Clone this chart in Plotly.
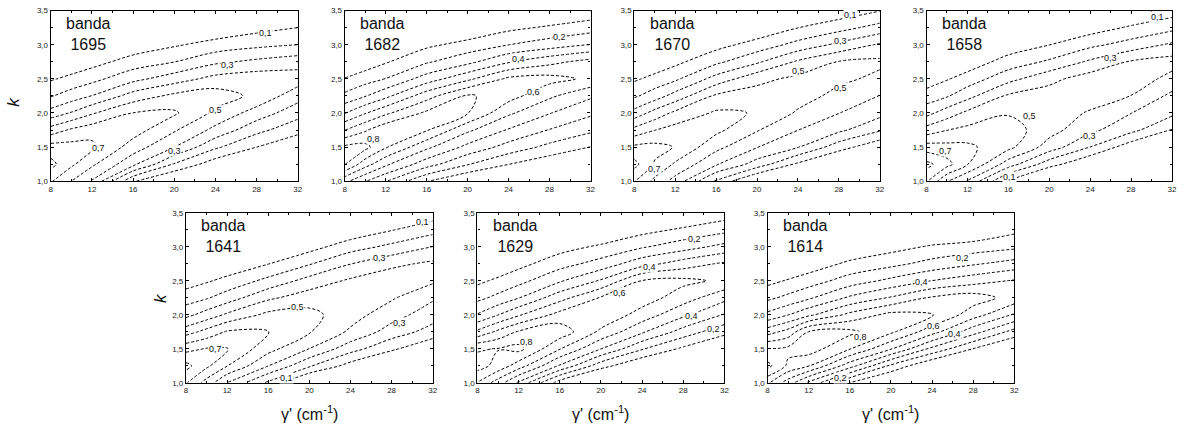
import plotly.graph_objects as go

# ---------------- data ----------------
GAMMA = [8, 10, 12, 16, 20, 24, 28, 32]                      # gamma' (cm-1) grid
K = [1.0, 1.25, 1.5, 1.75, 2.0, 2.25, 2.5, 2.75, 3.0, 3.25, 3.5]  # k grid
BANDS = ["1695", "1682", "1670", "1658", "1641", "1629", "1614"]

# z values, one list per gamma column (values along K)
Z_1695 = [
    [0.71, 0.83, 0.743, 0.544, 0.34, 0.192, 0.088, 0.0, -0.1, -0.2, -0.3],
    [0.6, 0.72, 0.738, 0.616, 0.408, 0.247, 0.128, 0.023, -0.08, -0.18, -0.28],
    [0.49, 0.62, 0.725, 0.659, 0.488, 0.303, 0.168, 0.062, -0.04, -0.14, -0.24],
    [0.11, 0.425, 0.552, 0.647, 0.602, 0.442, 0.27, 0.143, 0.035, -0.07, -0.17],
    [-0.03, 0.19, 0.4, 0.512, 0.615, 0.524, 0.353, 0.198, 0.087, -0.03, -0.13],
    [-0.136, 0.043, 0.217, 0.371, 0.478, 0.55, 0.433, 0.28, 0.138, 0.019, -0.1],
    [-0.2, -0.04, 0.1, 0.23, 0.356, 0.475, 0.46, 0.322, 0.174, 0.065, -0.04],
    [-0.3, -0.15, 0.014, 0.133, 0.239, 0.342, 0.45, 0.356, 0.2, 0.1, 0.0],
]
Z_1682 = [
    [0.525, 0.81, 0.82, 0.598, 0.395, 0.225, 0.105, -0.01, -0.12, -0.23, -0.34],
    [0.405, 0.643, 0.83, 0.688, 0.492, 0.294, 0.155, 0.04, -0.07, -0.18, -0.29],
    [0.305, 0.52, 0.71, 0.775, 0.58, 0.373, 0.203, 0.09, -0.02, -0.13, -0.24],
    [0.105, 0.343, 0.523, 0.708, 0.72, 0.558, 0.346, 0.187, 0.078, -0.03, -0.14],
    [-0.01, 0.207, 0.371, 0.52, 0.705, 0.715, 0.477, 0.271, 0.135, 0.013, -0.1],
    [-0.08, 0.102, 0.261, 0.39, 0.518, 0.642, 0.62, 0.39, 0.198, 0.075, -0.05],
    [-0.2, 0.029, 0.171, 0.295, 0.405, 0.519, 0.635, 0.47, 0.25, 0.115, -0.01],
    [-0.25, -0.02, 0.098, 0.22, 0.319, 0.416, 0.58, 0.535, 0.302, 0.155, 0.03],
]
Z_1670 = [
    [0.705, 0.83, 0.721, 0.533, 0.338, 0.184, 0.084, -0.02, -0.12, -0.22, -0.32],
    [0.571, 0.69, 0.73, 0.598, 0.438, 0.252, 0.131, 0.029, -0.07, -0.17, -0.27],
    [0.46, 0.585, 0.695, 0.64, 0.523, 0.338, 0.181, 0.074, -0.03, -0.13, -0.23],
    [0.18, 0.412, 0.529, 0.625, 0.615, 0.517, 0.338, 0.177, 0.064, -0.04, -0.15],
    [-0.03, 0.256, 0.404, 0.508, 0.595, 0.546, 0.47, 0.283, 0.14, 0.021, -0.1],
    [-0.15, 0.08, 0.304, 0.401, 0.486, 0.545, 0.525, 0.415, 0.233, 0.098, -0.02],
    [-0.25, -0.05, 0.145, 0.322, 0.402, 0.469, 0.522, 0.505, 0.323, 0.163, 0.032],
    [-0.35, -0.15, 0.02, 0.213, 0.332, 0.397, 0.477, 0.52, 0.414, 0.237, 0.095],
]
Z_1658 = [
    [0.71, 0.83, 0.646, 0.442, 0.267, 0.142, 0.046, -0.05, -0.15, -0.25, -0.35],
    [0.505, 0.735, 0.633, 0.498, 0.35, 0.19, 0.092, -0.01, -0.11, -0.21, -0.31],
    [0.39, 0.605, 0.623, 0.527, 0.422, 0.267, 0.141, 0.042, -0.06, -0.16, -0.26],
    [0.08, 0.35, 0.528, 0.548, 0.491, 0.415, 0.267, 0.14, 0.04, -0.06, -0.16],
    [-0.1, 0.144, 0.354, 0.44, 0.465, 0.45, 0.37, 0.216, 0.098, -0.02, -0.13],
    [-0.2, 0.0, 0.198, 0.323, 0.387, 0.46, 0.45, 0.317, 0.175, 0.05, -0.05],
    [-0.3, -0.1, 0.04, 0.23, 0.302, 0.398, 0.46, 0.41, 0.241, 0.114, 0.0],
    [-0.4, -0.2, -0.05, 0.095, 0.222, 0.276, 0.367, 0.44, 0.317, 0.171, 0.052],
]
Z_1641 = [
    [0.71, 0.83, 0.667, 0.458, 0.271, 0.15, 0.054, -0.05, -0.15, -0.25, -0.35],
    [0.56, 0.722, 0.706, 0.533, 0.342, 0.19, 0.089, -0.01, -0.11, -0.21, -0.31],
    [0.398, 0.603, 0.705, 0.61, 0.417, 0.25, 0.128, 0.029, -0.07, -0.17, -0.27],
    [0.18, 0.402, 0.536, 0.605, 0.526, 0.381, 0.229, 0.098, 0.0, -0.1, -0.2],
    [-0.05, 0.214, 0.398, 0.508, 0.53, 0.454, 0.339, 0.192, 0.061, -0.05, -0.15],
    [-0.2, 0.06, 0.241, 0.383, 0.442, 0.48, 0.417, 0.298, 0.156, 0.025, -0.08],
    [-0.3, -0.05, 0.119, 0.255, 0.342, 0.412, 0.465, 0.376, 0.226, 0.095, -0.03],
    [-0.4, -0.15, 0.01, 0.159, 0.245, 0.314, 0.418, 0.421, 0.302, 0.162, 0.043],
]
Z_1629 = [
    [0.695, 0.84, 0.79, 0.522, 0.308, 0.173, 0.077, -0.02, -0.12, -0.22, -0.32],
    [0.55, 0.767, 0.804, 0.623, 0.398, 0.228, 0.121, 0.022, -0.08, -0.18, -0.28],
    [0.38, 0.65, 0.83, 0.71, 0.488, 0.297, 0.167, 0.069, -0.03, -0.13, -0.23],
    [0.05, 0.388, 0.606, 0.76, 0.636, 0.462, 0.288, 0.16, 0.06, -0.04, -0.14],
    [-0.1, 0.14, 0.402, 0.578, 0.68, 0.61, 0.412, 0.241, 0.118, 0.0, -0.1],
    [-0.25, 0.0, 0.209, 0.415, 0.558, 0.65, 0.605, 0.362, 0.19, 0.065, -0.05],
    [-0.35, -0.1, 0.08, 0.258, 0.421, 0.548, 0.625, 0.45, 0.257, 0.118, -0.01],
    [-0.45, -0.2, -0.02, 0.13, 0.293, 0.429, 0.58, 0.518, 0.333, 0.17, 0.045],
]
Z_1614 = [
    [0.72, 0.93, 0.805, 0.556, 0.325, 0.178, 0.07, -0.03, -0.13, -0.23, -0.33],
    [0.55, 0.782, 0.825, 0.638, 0.398, 0.226, 0.11, 0.0, -0.1, -0.2, -0.3],
    [0.38, 0.706, 0.85, 0.802, 0.478, 0.284, 0.15, 0.041, -0.06, -0.16, -0.26],
    [0.098, 0.443, 0.706, 0.825, 0.627, 0.417, 0.247, 0.122, 0.013, -0.09, -0.19],
    [-0.05, 0.18, 0.508, 0.72, 0.73, 0.51, 0.326, 0.172, 0.063, -0.04, -0.14],
    [-0.2, 0.0, 0.275, 0.54, 0.705, 0.613, 0.402, 0.236, 0.113, -0.01, -0.12],
    [-0.3, -0.1, 0.098, 0.34, 0.545, 0.65, 0.459, 0.289, 0.147, 0.0, -0.1],
    [-0.4, -0.2, -0.03, 0.162, 0.391, 0.559, 0.51, 0.34, 0.179, 0.075, -0.03],
]
Z_ALL = [Z_1695, Z_1682, Z_1670, Z_1658, Z_1641, Z_1629, Z_1614]

# contour labels shown in each panel: (text, gamma, k)
LABELS = [
    [("0,1", 28.9, 3.17), ("0,3", 25.2, 2.71), ("0,5", 24.0, 2.04), ("0,7", 12.6, 1.49), ("0,3", 20.0, 1.44)],
    [("0,2", 29.0, 3.11), ("0,4", 25.0, 2.79), ("0,6", 26.4, 2.31), ("0,8", 10.8, 1.62)],
    [("0,1", 29.1, 3.43), ("0,3", 28.2, 3.06), ("0,5", 24.1, 2.62), ("0,5", 28.2, 2.36), ("0,7", 10.0, 1.18)],
    [("0,1", 30.6, 3.40), ("0,3", 26.0, 2.81), ("0,5", 18.1, 1.95), ("0,7", 9.9, 1.45), ("0,3", 23.9, 1.66), ("0,1", 16.1, 1.06)],
    [("0,1", 31.0, 3.36), ("0,3", 26.8, 2.84), ("0,5", 18.8, 2.11), ("0,7", 10.9, 1.50), ("0,3", 28.8, 1.88), ("0,1", 17.8, 1.07)],
    [("0,2", 29.1, 3.12), ("0,4", 24.75, 2.71), ("0,6", 21.85, 2.32), ("0,8", 12.8, 1.60), ("0,4", 28.8, 1.99), ("0,2", 30.9, 1.79)],
    [("0,2", 27.0, 2.84), ("0,4", 23.0, 2.48), ("0,8", 17.0, 1.68), ("0,6", 24.1, 1.84), ("0,4", 26.2, 1.72), ("0,2", 15.1, 1.07)],
]

# ---------------- layout ----------------
W, H = 1190, 438
TOP_Y = [0.5868, 0.9847]
BOT_Y = [0.1171, 0.5130]
DOMAINS = [
    ([0.0412, 0.2500], TOP_Y),
    ([0.2897, 0.4975], TOP_Y),
    ([0.5345, 0.7420], TOP_Y),
    ([0.7815, 0.9890], TOP_Y),
    ([0.1555, 0.3641], BOT_Y),
    ([0.4019, 0.6107], BOT_Y),
    ([0.6471, 0.8557], BOT_Y),
]

TICKFONT = dict(family="Liberation Sans Narrow, Liberation Sans, Arial", size=8, color="#222")
TEXTFONT = "Liberation Sans, Arial, sans-serif"

fig = go.Figure()
annotations = []
layout = {}

for i, (band, z) in enumerate(zip(BANDS, Z_ALL)):
    n = "" if i == 0 else str(i + 1)
    xa, ya = "x" + n, "y" + n
    fig.add_trace(go.Contour(
        x=GAMMA, y=K, z=z, transpose=True,
        xaxis=xa, yaxis=ya,
        autocontour=False,
        contours=dict(start=0.1, end=0.9, size=0.1, coloring="none", showlabels=False),
        line=dict(color="black", width=1, dash="3px,2px", smoothing=1),
        showscale=False, hoverinfo="skip",
    ))
    dx, dy = DOMAINS[i]
    common = dict(
        ticks="inside", ticklen=3, tickwidth=1, tickcolor="black",
        showline=True, linecolor="black", linewidth=1.2, mirror="ticks",
        showgrid=False, zeroline=False, tickfont=TICKFONT, fixedrange=True,
    )
    layout["xaxis" + n] = dict(
        domain=dx, range=[8, 32], tick0=8, dtick=4, anchor=ya,
        minor=dict(ticks="inside", dtick=2, ticklen=2, tickcolor="black", showgrid=False),
        **common)
    layout["yaxis" + n] = dict(
        domain=dy, range=[1.0, 3.5], tick0=1.0, dtick=0.5, tickformat=".1f", anchor=xa,
        minor=dict(ticks="inside", dtick=0.25, ticklen=2, tickcolor="black", showgrid=False),
        **common)
    # band name
    annotations.append(dict(
        xref="paper", yref="paper",
        x=dx[0] + 38 / W, y=dy[1] - 24 / H,
        text="banda<br>" + band, showarrow=False, align="center",
        xanchor="center", yanchor="middle",
        font=dict(family=TEXTFONT, size=16, color="#111"),
    ))
    # contour labels
    for txt, gx, gk in LABELS[i]:
        annotations.append(dict(
            xref=xa, yref=ya, x=gx, y=gk, text=txt, showarrow=False,
            font=dict(family=TICKFONT["family"], size=9, color="#111"),
            bgcolor="white", borderpad=0,
        ))

# axis titles
for px, py in [(12, 100), (160, 300)]:
    annotations.append(dict(
        xref="paper", yref="paper", x=px / W, y=1 - py / H, text="<i>k</i>",
        showarrow=False, textangle=-90, xanchor="center", yanchor="middle",
        font=dict(family=TEXTFONT, size=17, color="#111"),
    ))
for i in (4, 5, 6):
    dx, _ = DOMAINS[i]
    annotations.append(dict(
        xref="paper", yref="paper", x=(dx[0] + dx[1]) / 2, y=1 - 418 / H,
        text="γ' (cm<sup>-1</sup>)", showarrow=False,
        xanchor="center", yanchor="middle",
        font=dict(family=TEXTFONT, size=16, color="#111"),
    ))

fig.update_layout(
    width=W, height=H, margin=dict(l=0, r=0, t=0, b=0),
    paper_bgcolor="white", plot_bgcolor="white",
    separators=",.", showlegend=False,
    annotations=annotations, **layout,
)

fig.write_html("out.html", config={"displayModeBar": False})
